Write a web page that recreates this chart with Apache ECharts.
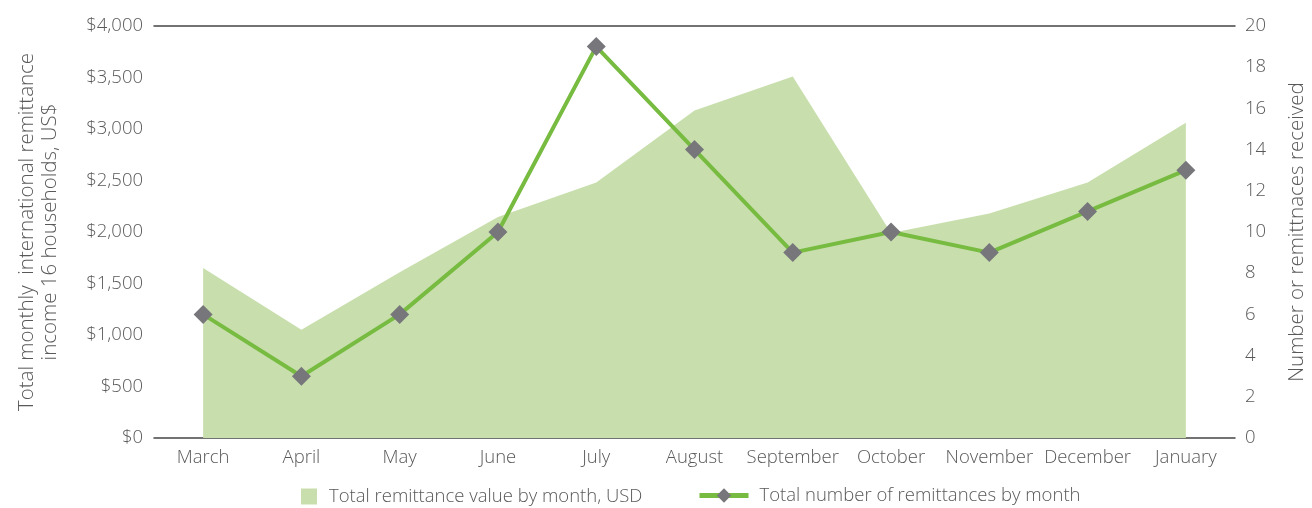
<!DOCTYPE html>
<html>
<head>
<meta charset="utf-8">
<script src="https://cdn.jsdelivr.net/npm/echarts@6/dist/echarts.min.js"></script>
<style>html,body{margin:0;padding:0;background:#fff}#c{width:1312px;height:508px}</style>
</head>
<body>
<div id="c"></div>
<script>
const months = ['March','April','May','June','July','August','September','October','November','December','January'];
const remitValue = [1650, 1050, 1610, 2145, 2480, 3180, 3510, 1990, 2180, 2480, 3060];
const remitCount = [6, 3, 6, 10, 19, 14, 9, 10, 9, 11, 13];
const leftTicks = [0, 500, 1000, 1500, 2000, 2500, 3000, 3500, 4000];
const rightTicks = [0, 2, 4, 6, 8, 10, 12, 14, 16, 18, 20];

const txt = '#595959';
const font = 'Open Sans';
const fw = 300;
const chart = echarts.init(document.getElementById('c'));
chart.setOption({
  animation: false,
  textStyle: {fontFamily: font, color: txt, fontWeight: fw},
  grid: {left: 154, right: 77, top: 26, bottom: 70, containLabel: false, outerBoundsMode: 'none'},
  legend: [
    {left: 301, top: 487, padding: 0, itemWidth: 16, itemHeight: 16, icon: 'rect',
     textStyle: {fontFamily: font, fontSize: 18.5, fontWeight: fw, color: txt, padding: [0, 0, 0, 7]},
     data: [{name: 'Total remittance value by month, USD', itemStyle: {color: '#c8dfad'}}]},
    {left: 697, top: 486, padding: 0, itemWidth: 49, itemHeight: 18,
     lineStyle: {width: 5, color: '#77bb41'},
     textStyle: {fontFamily: font, fontSize: 18.5, fontWeight: fw, color: txt, padding: [0, 0, 0, 6]},
     data: ['Total number of remittances by month']}
  ],
  xAxis: [
    {type: 'category', data: months, boundaryGap: true, position: 'bottom',
     axisLine: {onZero: false, lineStyle: {color: '#444', width: 1.5}}, axisTick: {show: false},
     axisLabel: {fontFamily: font, fontSize: 18.5, fontWeight: fw, color: txt, margin: 10, interval: 0}},
    {type: 'category', data: months, boundaryGap: true, position: 'top',
     axisLine: {show: true, onZero: false, lineStyle: {color: '#444', width: 1.5}}, axisTick: {show: false},
     axisLabel: {show: false}}
  ],
  yAxis: [
    {type: 'value', min: leftTicks[0], max: leftTicks[leftTicks.length-1], interval: 500,
     splitLine: {show: false}, axisLine: {show: false}, axisTick: {show: false},
     axisLabel: {fontFamily: font, fontSize: 18.5, fontWeight: fw, color: txt, margin: 11,
       formatter: v => '$' + v.toLocaleString('en-US')},
     name: 'Total monthly  international remittance\nincome 16 households, US$',
     nameLocation: 'middle', nameGap: 92, nameRotate: 90,
     nameTextStyle: {fontFamily: font, fontSize: 20.5, fontWeight: fw, color: txt, lineHeight: 23}},
    {type: 'value', min: rightTicks[0], max: rightTicks[rightTicks.length-1], interval: 2,
     position: 'right',
     splitLine: {show: false}, axisLine: {show: false}, axisTick: {show: false},
     axisLabel: {fontFamily: font, fontSize: 18.5, fontWeight: fw, color: txt, margin: 10},
     name: 'Number or remittnaces received',
     nameLocation: 'middle', nameGap: 52, nameRotate: 90,
     nameTextStyle: {fontFamily: font, fontSize: 20.5, fontWeight: fw, color: txt}}
  ],
  series: [
    {name: 'Total remittance value by month, USD', type: 'line', yAxisIndex: 0,
     data: remitValue, showSymbol: false, symbol: 'none',
     lineStyle: {width: 0, color: '#c8dfad'}, itemStyle: {color: '#c8dfad'},
     areaStyle: {color: '#c8dfad', opacity: 1}, z: 1},
    {name: 'Total number of remittances by month', type: 'line', yAxisIndex: 1,
     data: remitCount, symbol: 'diamond', symbolSize: 19,
     lineStyle: {width: 4, color: '#77bb41'}, itemStyle: {color: '#77777b'}, z: 3}
  ]
});
</script>
</body>
</html>
